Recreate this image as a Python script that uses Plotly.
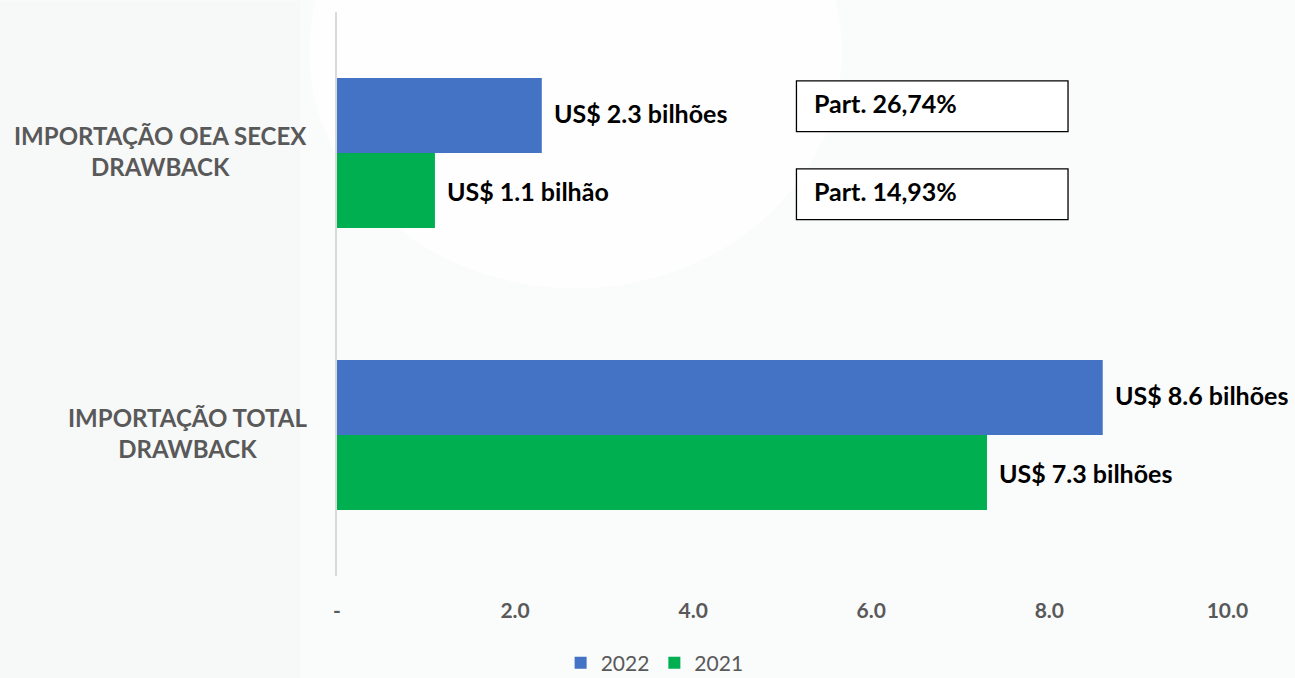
import plotly.graph_objects as go

categories = ["IMPORTAÇÃO OEA SECEX<br>DRAWBACK", "IMPORTAÇÃO TOTAL<br>DRAWBACK"]
series_names = ["2022", "2021"]
values_2022 = [2.3, 8.6]
values_2021 = [1.1, 7.3]
labels_2022 = ["US$ 2.3 bilhões", "US$ 8.6 bilhões"]
labels_2021 = ["US$ 1.1 bilhão", "US$ 7.3 bilhões"]
part_labels = ["Part. 26,74%", "Part. 14,93%"]
tick_vals = [0, 2, 4, 6, 8, 10]
tick_text = ["-", "2.0", "4.0", "6.0", "8.0", "10.0"]

BLUE = "#4472C4"
GREEN = "#00B050"
GRAY = "#595959"
FONT = "Lato"

fig = go.Figure()
fig.add_trace(go.Bar(y=categories, x=values_2022, name=series_names[0], orientation="h",
                     marker=dict(color=BLUE, line=dict(width=0))))
fig.add_trace(go.Bar(y=categories, x=values_2021, name=series_names[1], orientation="h",
                     marker=dict(color=GREEN, line=dict(width=0))))

annotations = []
# data labels
for cat, v, lab in zip(categories, values_2022, labels_2022):
    annotations.append(dict(x=v, y=cat, xref="x", yref="y", text="<b>%s</b>" % lab,
                            showarrow=False, xanchor="left", yanchor="middle",
                            xshift=10, yshift=40,
                            font=dict(family=FONT, size=25, color="#000000")))
for cat, v, lab in zip(categories, values_2021, labels_2021):
    annotations.append(dict(x=v, y=cat, xref="x", yref="y", text="<b>%s</b>" % lab,
                            showarrow=False, xanchor="left", yanchor="middle",
                            xshift=10, yshift=-38,
                            font=dict(family=FONT, size=25, color="#000000")))
# category labels (centered lines)
for cat in categories:
    annotations.append(dict(x=-0.031, y=cat, xref="paper", yref="y", text="<b>%s</b>" % cat,
                            showarrow=False, xanchor="right", yanchor="middle", align="center",
                            yshift=2, font=dict(family=FONT, size=24, color=GRAY)))

# participation boxes
box_y = [(0.788, 0.878), (0.632, 0.722)]
shapes = []
for (y0, y1), lab in zip(box_y, part_labels):
    shapes.append(dict(type="rect", xref="x", yref="paper", x0=5.16, x1=8.21, y0=y0, y1=y1,
                       line=dict(color="#000000", width=1.3), fillcolor="#FFFFFF", layer="above"))
    annotations.append(dict(x=5.33, y=(y0 + y1) / 2 + 0.006, xref="x", yref="paper",
                            text="<b>%s</b>" % lab, showarrow=False, xanchor="left",
                            yanchor="middle", font=dict(family=FONT, size=25, color="#000000")))

# faint decorative background
bg_shapes = [
    dict(type="rect", xref="paper", yref="paper", x0=-0.367, x1=-0.15, y0=0.30, y1=0.80,
         fillcolor="#F2F3F3", line=dict(width=0), layer="below"),
    dict(type="rect", xref="paper", yref="paper", x0=-0.367, x1=-0.04, y0=-0.183, y1=1.02,
         fillcolor="#F7F8F8", line=dict(width=0), layer="below"),
    dict(type="circle", xref="paper", yref="paper", x0=-0.03, x1=0.55, y0=0.51, y1=1.35,
         fillcolor="#FEFEFE", line=dict(width=0), layer="below"),
]

fig.update_layout(
    width=1295, height=678,
    margin=dict(l=337, r=40, t=12, b=102),
    paper_bgcolor="#FAFBFB", plot_bgcolor="rgba(0,0,0,0)",
    barmode="group", bargap=0.468, bargroupgap=0,
    font=dict(family=FONT, color=GRAY),
    xaxis=dict(range=[0, 10.31], tickvals=tick_vals, ticktext=tick_text,
               showgrid=False, zeroline=False, showline=False, automargin=False,
               tickfont=dict(family=FONT, size=21, color=GRAY, weight="bold"), ticks="",
               ticklabelstandoff=20, fixedrange=True),
    yaxis=dict(autorange="reversed", showticklabels=False, showgrid=False, zeroline=False,
               showline=True, linecolor="#D9D9D9", linewidth=2, ticks="", automargin=False),
    legend=dict(orientation="h", x=0.346, xanchor="center",
                yref="container", y=0.022, yanchor="middle",
                font=dict(family=FONT, size=21, color=GRAY), bgcolor="rgba(0,0,0,0)",
                itemwidth=30, tracegroupgap=0),
    showlegend=True,
    annotations=annotations,
    shapes=bg_shapes + shapes,
)

fig.write_html("out.html", config={"displayModeBar": False},
               post_script="document.body.style.margin='0';")
